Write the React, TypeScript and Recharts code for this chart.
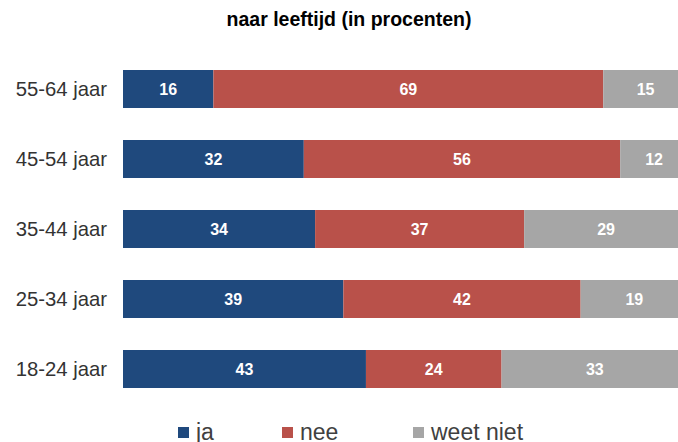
import { BarChart, Bar, XAxis, YAxis, LabelList } from 'recharts'

const categories = ['55-64 jaar', '45-54 jaar', '35-44 jaar', '25-34 jaar', '18-24 jaar']
const ja = [16, 32, 34, 39, 43]
const nee = [69, 56, 37, 42, 24]
const weetNiet = [15, 12, 29, 19, 33]

const seriesNames = ['ja', 'nee', 'weet niet']
const colors = ['#1F497D', '#B9514A', '#A6A6A6']

const data = categories.map((name, i) => ({
  name,
  ja: ja[i],
  nee: nee[i],
  weetNiet: weetNiet[i],
}))

const font = '"Liberation Sans", Arial, sans-serif'

export default function App() {
  const keys = ['ja', 'nee', 'weetNiet']
  return (
    <div
      style={{
        position: 'absolute',
        left: 0,
        top: 0,
        width: 678,
        height: 442,
        overflow: 'hidden',
        background: '#fff',
        fontFamily: font,
      }}
    >
      <div
        style={{
          position: 'absolute',
          left: 0,
          top: 8,
          width: 698,
          textAlign: 'center',
          fontWeight: 'bold',
          fontSize: 19.5,
          color: '#000',
        }}
      >
        naar leeftijd (in procenten)
      </div>
      <BarChart
        width={688}
        height={442}
        data={data}
        layout="vertical"
        margin={{ top: 54, right: 0, bottom: 38, left: 0 }}
      >
        <XAxis type="number" domain={[0, 100]} hide />
        <YAxis
          type="category"
          dataKey="name"
          width={123}
          axisLine={false}
          tickLine={false}
          tickSize={0}
          tickMargin={16}
          tick={{ fill: '#333', fontSize: 20.3, fontFamily: font }}
        />
        {keys.map((k, i) => (
          <Bar key={k} dataKey={k} stackId="a" fill={colors[i]} barSize={38} isAnimationActive={false}>
            <LabelList
              dataKey={k}
              position="center"
              fill="#fff"
              fontWeight="bold"
              fontSize={16}
              fontFamily={font}
            />
          </Bar>
        ))}
      </BarChart>
      {seriesNames.map((s, i) => (
        <div
          key={s}
          style={{
            position: 'absolute',
            left: [178, 282, 413][i],
            top: 419,
            display: 'flex',
            alignItems: 'center',
            fontSize: 23,
            color: '#404040',
            whiteSpace: 'nowrap',
          }}
        >
          <span style={{ display: 'inline-block', width: 11, height: 11, background: colors[i], marginRight: 7 }} />
          {s}
        </div>
      ))}
    </div>
  )
}
